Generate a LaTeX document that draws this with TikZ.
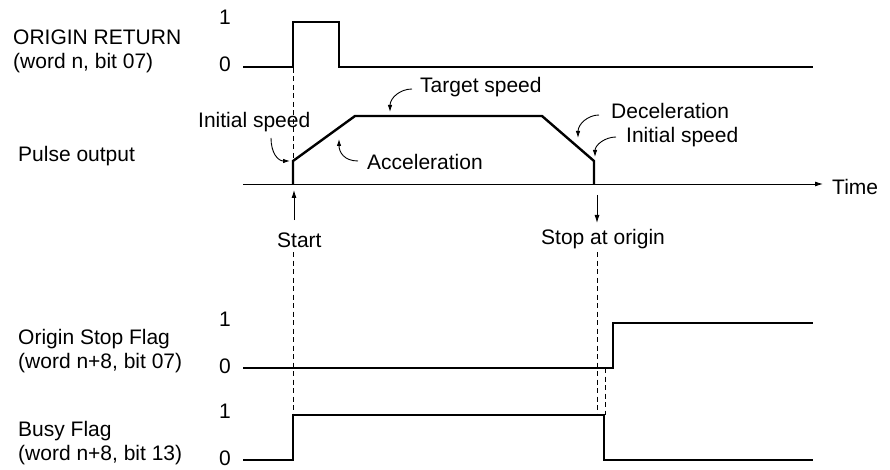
\documentclass[tikz,border=0pt]{standalone}
\usepackage{fontspec}
\setmainfont{Liberation Sans}
\usetikzlibrary{arrows.meta}
\tikzset{
  sig/.style={line width=2.4pt},
  thin line/.style={line width=0.9pt},
  guide/.style={line width=0.8pt, dash pattern=on 5pt off 3.5pt},
  lbl/.style={inner sep=0pt, font=\fontsize{21}{24}\selectfont},
}
\begin{document}
\begin{tikzpicture}[x=1pt, y=-1pt, >={Latex[length=8pt,width=5pt]}]
		\useasboundingbox (0,0) rectangle (890,470);
		% signal names (base = last line)
		\node[lbl, anchor=base west, align=left] (orgret) at (13,69) {ORIGIN RETURN\\(word n, bit 07)};
		\node[lbl, anchor=base west] (pulse) at (18,162) {Pulse output};
		\node[lbl, anchor=base west, align=left] (stopflag) at (18,368) {Origin Stop Flag\\(word n+8, bit 07)};
		\node[lbl, anchor=base west, align=left] (busyflag) at (18,460) {Busy Flag\\(word n+8, bit 13)};
		% levels
		\foreach \y/\v [count=\i] in {25/1, 72/0, 326/1, 373/0, 418/1, 465/0} {
				\node[lbl, anchor=base] (lv\i) at (225,\y) {\v};
			}
		% waveforms
		\draw[sig] (243,67) -- (293,67) -- (293,22) -- (339,22) -- (339,67) -- (813,67);
		\draw[sig] (293,184) -- (293,161) -- (355,116) -- (542,116) -- (594,161) -- (594,184);
		\draw[sig] (243,368) -- (613,368) -- (613,323) -- (813,323);
		\draw[sig] (243,460) -- (293,460) -- (293,415) -- (604,415) -- (604,460) -- (813,460);
		% time axis
		\node[lbl, anchor=base west] (time) at (832,195) {Time};
		\coordinate (t0) at (243,184);
		\coordinate (t1) at (823,184);
		\draw[->, thin line] (t0) -- (t1);
		% annotations on the pulse
		\node[lbl, anchor=base west] (initl) at (198,128) {Initial speed};
		\node[lbl, anchor=base west] (accel) at (367,170) {Acceleration};
		\node[lbl, anchor=base west] (target) at (420,93) {Target speed};
		\node[lbl, anchor=base west] (decel) at (611,119) {Deceleration};
		\node[lbl, anchor=base west] (initr) at (626,143) {Initial speed};
		\begin{scope}[->, thin line, >={Latex[length=7pt,width=4.5pt]}]
			\draw (271,138) .. controls (271,153) and (278,161) .. (290,161);
			\draw (358,161) .. controls (344,161) and (339,152) .. (339,139);
			\draw (412,89) .. controls (400,89) and (390,98) .. (390,112);
			\draw (599,115) .. controls (588,115) and (578,124) .. (578,138);
			\draw (616,137) .. controls (605,137) and (595,145) .. (595,157);
		\end{scope}
		% start and stop
		\node[lbl, anchor=base west] (start) at (277,247) {Start};
		\node[lbl, anchor=base west] (stop) at (541,244) {Stop at origin};
		\draw[->, thin line] (294,220) -- (294,190);
		\draw[->, thin line] (597,195) -- (597,223);
		\draw[guide] (293,68) -- (293,161);
		\draw[guide] (293,252) -- (293,415);
		\draw[guide] (597,252) -- (597,415);
		\draw[guide] (605,368) -- (605,415);
	\end{tikzpicture}
\end{document}
